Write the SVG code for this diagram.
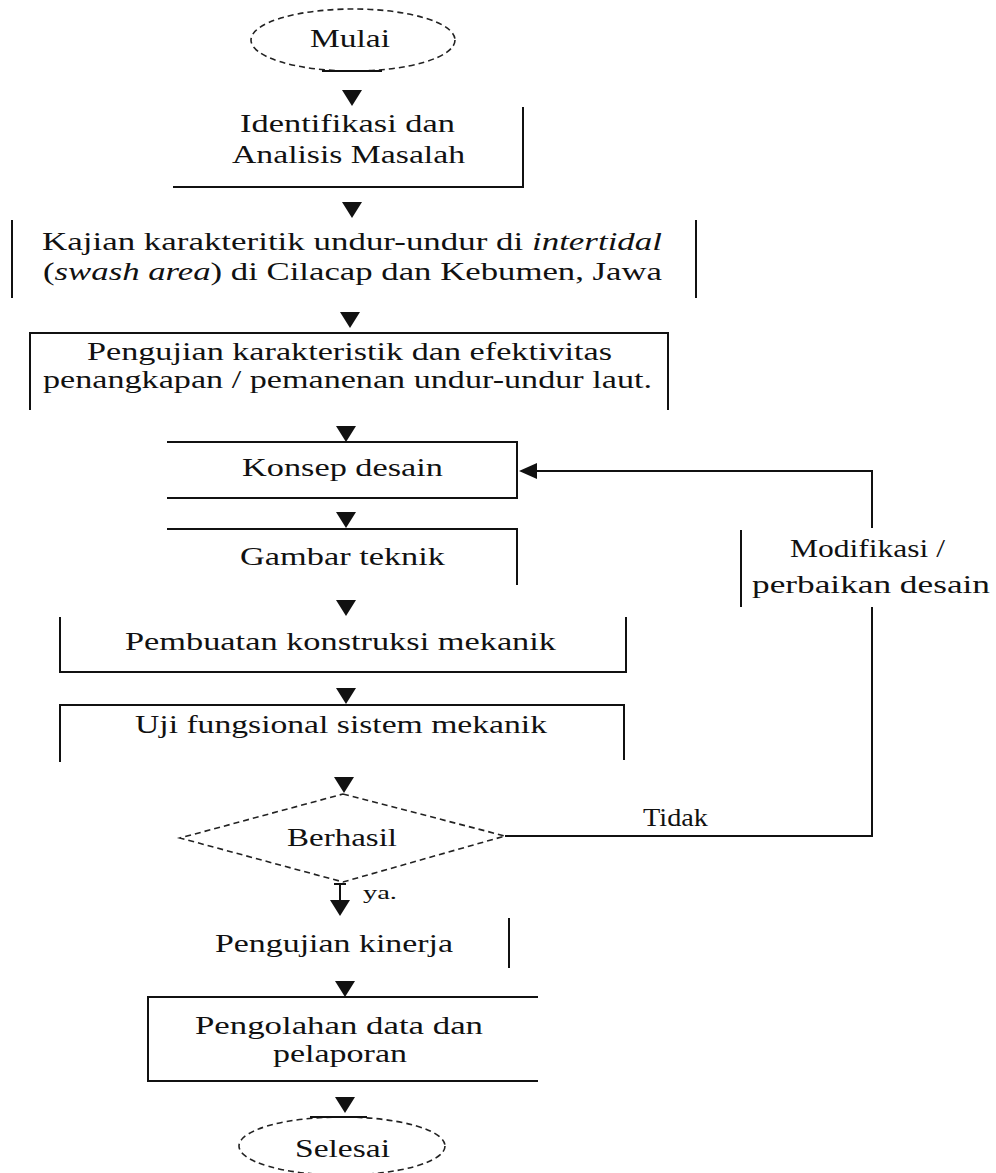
<svg xmlns="http://www.w3.org/2000/svg" width="996" height="1173" viewBox="0 0 996 1173">
<style>
.ln{stroke:#111;stroke-width:2;fill:none}
.ds{stroke:#222;stroke-width:1.6;fill:none;stroke-dasharray:6 4}
.t{font-family:"Liberation Serif","Times New Roman",serif;font-size:26px;fill:#111}
.it{font-style:italic}
.sm{font-family:"Liberation Serif","Times New Roman",serif;font-size:18px;fill:#111}
</style>
<defs>
<path id="tri" d="M-10,0 L10,0 L0,16 Z" fill="#111"/>
</defs>
<rect width="996" height="1173" fill="#fff"/>
<g id="mulai">
<ellipse class="ds" cx="353" cy="40" rx="102" ry="31"/>
<line class="ln" x1="322" y1="71" x2="382" y2="71"/>
<text class="t" x="310" y="47" textLength="80" lengthAdjust="spacingAndGlyphs">Mulai</text>
</g>
<g id="identifikasi">
<path class="ln" d="M523,107 V187 H173"/>
<text class="t" x="240" y="132" textLength="215" lengthAdjust="spacingAndGlyphs">Identifikasi dan</text>
<text class="t" x="232" y="163" textLength="233" lengthAdjust="spacingAndGlyphs">Analisis Masalah</text>
</g>
<g id="kajian">
<line class="ln" x1="12" y1="220" x2="12" y2="298"/>
<line class="ln" x1="696" y1="220" x2="696" y2="298"/>
<text class="t" x="42" y="250" textLength="620" lengthAdjust="spacingAndGlyphs">Kajian karakteritik undur-undur di <tspan class="it">intertidal</tspan></text>
<text class="t" x="43" y="280" textLength="619" lengthAdjust="spacingAndGlyphs">(<tspan class="it">swash area</tspan>) di Cilacap dan Kebumen, Jawa</text>
</g>
<g id="pengujian-karakteristik">
<path class="ln" d="M30,410 V333 H668 V410"/>
<text class="t" x="87" y="360" textLength="525" lengthAdjust="spacingAndGlyphs">Pengujian karakteristik dan efektivitas</text>
<text class="t" x="43" y="388" textLength="609" lengthAdjust="spacingAndGlyphs">penangkapan / pemanenan undur-undur laut.</text>
</g>
<g id="konsep">
<path class="ln" d="M167,442 H517 V498 H167"/>
<text class="t" x="242" y="476" textLength="201" lengthAdjust="spacingAndGlyphs">Konsep desain</text>
</g>
<g id="gambar">
<path class="ln" d="M167,529 H517 V585"/>
<text class="t" x="240" y="565" textLength="205" lengthAdjust="spacingAndGlyphs">Gambar teknik</text>
</g>
<g id="pembuatan">
<path class="ln" d="M60,617 V672 H626 V617"/>
<text class="t" x="125" y="650" textLength="431" lengthAdjust="spacingAndGlyphs">Pembuatan konstruksi mekanik</text>
</g>
<g id="uji">
<path class="ln" d="M60,762 V705 H624 V760"/>
<text class="t" x="135" y="733" textLength="412" lengthAdjust="spacingAndGlyphs">Uji fungsional sistem mekanik</text>
</g>
<g id="berhasil">
<path class="ds" d="M343,794 L505,836 L343,882 L180,838 Z"/>
<text class="t" x="287" y="846" textLength="110" lengthAdjust="spacingAndGlyphs">Berhasil</text>
</g>
<g id="modifikasi">
<line class="ln" x1="741" y1="530" x2="741" y2="607"/>
<text class="t" x="790" y="557" textLength="155" lengthAdjust="spacingAndGlyphs">Modifikasi /</text>
<text class="t" x="752" y="593" textLength="238" lengthAdjust="spacingAndGlyphs">perbaikan desain</text>
</g>
<g id="pengujian-kinerja">
<line class="ln" x1="509" y1="918" x2="509" y2="968"/>
<text class="t" x="215" y="952" textLength="238" lengthAdjust="spacingAndGlyphs">Pengujian kinerja</text>
</g>
<g id="pengolahan">
<path class="ln" d="M538,997 H148 V1081 H538"/>
<text class="t" x="195" y="1034" textLength="288" lengthAdjust="spacingAndGlyphs">Pengolahan data dan</text>
<text class="t" x="273" y="1062" textLength="134" lengthAdjust="spacingAndGlyphs">pelaporan</text>
</g>
<g id="selesai">
<ellipse class="ds" cx="342" cy="1146" rx="103" ry="29"/>
<line class="ln" x1="310" y1="1117" x2="367" y2="1117"/>
<text class="t" x="295" y="1157" textLength="95" lengthAdjust="spacingAndGlyphs">Selesai</text>
</g>
<g id="connectors">
<use href="#tri" x="352" y="90"/>
<use href="#tri" x="352" y="202"/>
<use href="#tri" x="350" y="312"/>
<use href="#tri" x="346" y="426"/>
<use href="#tri" x="346" y="512"/>
<use href="#tri" x="346" y="600"/>
<use href="#tri" x="346" y="688"/>
<use href="#tri" x="344" y="777"/>
<path class="ln" d="M334,884 H346 M340,884 V902"/>
<use href="#tri" x="340" y="900"/>
<use href="#tri" x="345" y="981"/>
<use href="#tri" x="345" y="1097"/>
<path class="ln" d="M505,836 H872 V607"/>
<path class="ln" d="M872,528 V471 H534"/>
<path d="M519,471 L537,463 L537,479 Z" fill="#111"/>
<text class="t" x="643" y="826" textLength="65" lengthAdjust="spacingAndGlyphs">Tidak</text>
<text class="sm" x="363" y="899" textLength="34" lengthAdjust="spacingAndGlyphs">ya.</text>
</g>
</svg>
